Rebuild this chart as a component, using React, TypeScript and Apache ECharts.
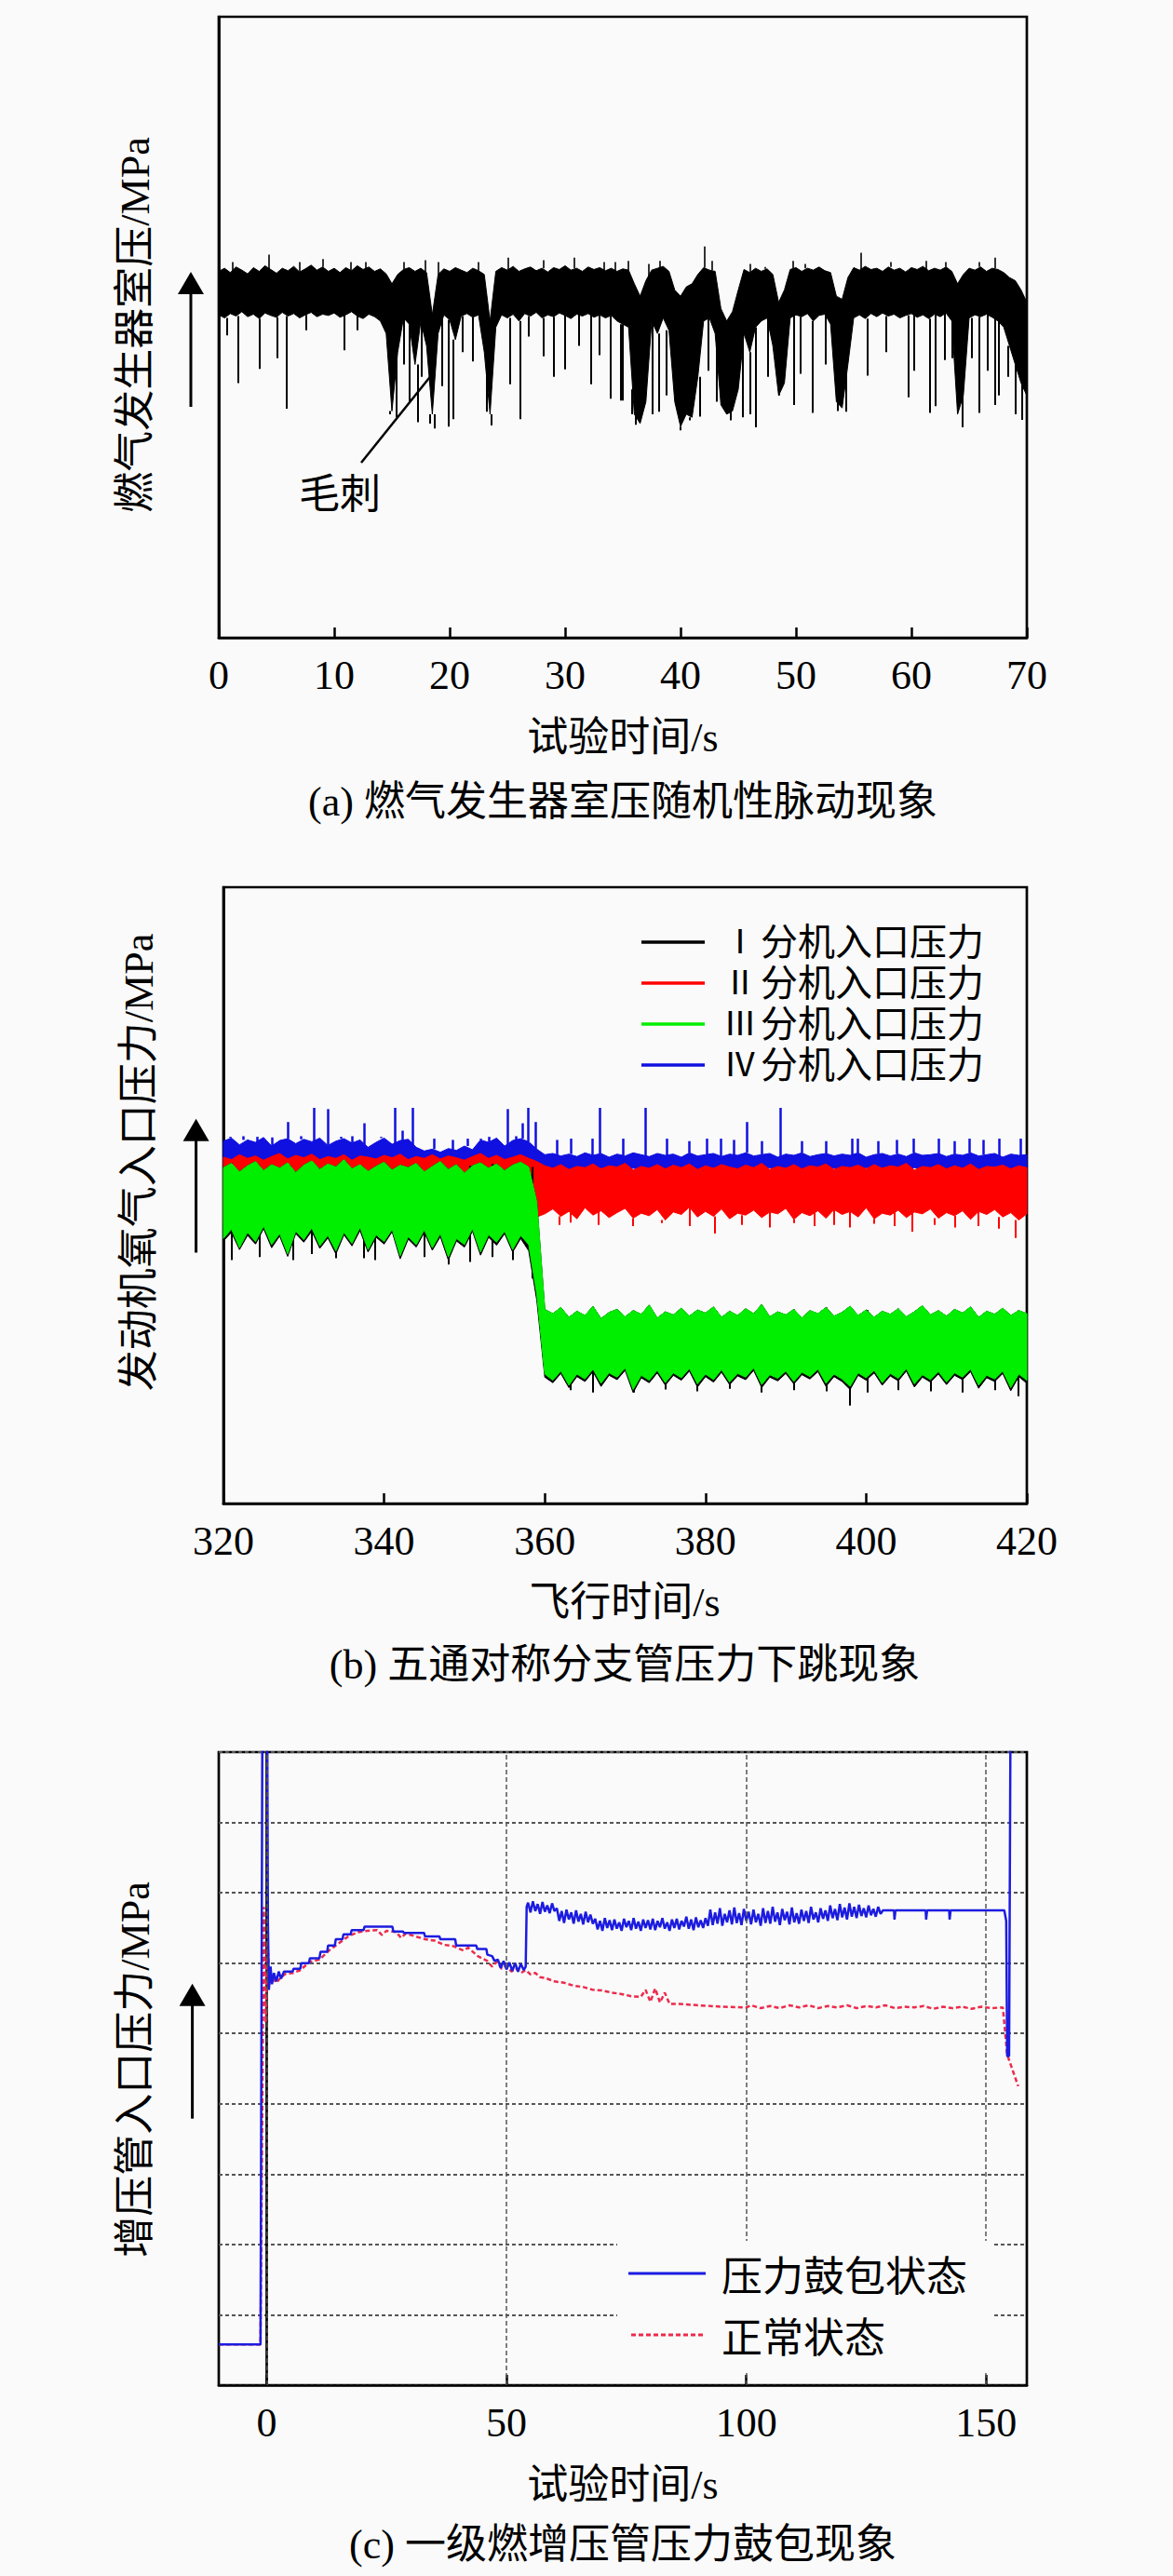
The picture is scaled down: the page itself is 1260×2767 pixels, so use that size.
import React, { useEffect, useRef } from "react";
import * as echarts from "echarts";

const SERIF = "Liberation Serif, Noto Sans CJK SC, serif";
const NUM_FONT = "Liberation Serif";
const CJK_FONT = "Noto Sans CJK SC";
const BG = "#fafafa";

// ---------------- (a) ----------------
const aTitle = "(a) 燃气发生器室压随机性脉动现象";
const aXName = "试验时间/s";
const aYName = "燃气发生器室压/MPa";
const aNote = "毛刺";
const aStep = 0.5; // envelope bin width, s
const aHigh = [
  5.90,5.95,5.88,5.97,5.92,5.86,5.96,5.90,5.99,5.93,
  5.87,5.95,5.91,5.98,5.89,5.94,6.00,5.92,5.97,5.90,
  5.95,5.88,5.96,5.91,5.99,5.93,5.97,5.90,5.94,5.86,
  5.70,5.85,5.93,5.96,5.90,5.95,5.88,5.20,5.85,5.94,
  5.90,5.96,5.92,5.88,5.95,5.91,5.85,5.10,5.90,5.96,
  5.92,5.98,5.90,5.94,5.97,5.91,5.95,5.89,5.96,5.93,
  5.99,5.92,5.95,5.90,5.97,5.93,5.96,5.91,5.95,5.90,
  5.94,5.92,5.70,5.50,5.75,5.92,5.95,5.98,5.90,5.60,
  5.50,5.65,5.70,5.85,5.96,5.92,5.90,5.30,5.10,5.25,
  5.60,5.93,5.88,5.95,5.90,5.94,5.85,5.40,5.60,5.93,
  5.96,5.90,5.95,5.92,5.97,5.91,5.88,5.50,5.45,5.80,
  5.96,5.92,5.98,5.93,5.95,5.90,5.97,5.92,5.95,5.89,
  5.96,5.93,5.98,5.91,5.95,5.92,5.97,5.90,5.70,5.85,
  5.95,5.92,5.97,5.90,5.95,5.93,5.88,5.80,5.75,5.60,
  5.40,
];
const aLow = [
  5.20,5.15,5.22,5.18,5.25,5.17,5.21,5.14,5.23,5.19,
  5.16,5.24,5.18,5.22,5.15,5.20,5.24,5.17,5.21,5.19,
  5.23,5.16,5.20,5.25,5.18,5.14,5.21,5.17,5.10,4.90,
  3.65,4.60,5.15,5.05,4.40,5.10,4.70,3.60,4.90,5.20,
  5.12,4.80,5.18,5.22,5.16,5.20,4.60,3.60,5.00,5.20,
  5.15,5.21,5.10,5.22,5.18,5.24,5.15,5.20,5.17,5.23,
  5.19,5.14,5.21,5.18,5.22,5.16,5.20,5.15,5.19,5.10,
  5.05,5.00,3.60,3.45,3.80,5.10,4.90,5.15,4.95,3.80,
  3.40,3.60,3.55,4.20,5.10,5.15,4.90,3.75,3.60,3.65,
  4.00,4.90,4.60,5.00,5.10,5.15,4.70,3.90,4.10,5.15,
  5.20,5.17,5.22,5.10,5.19,5.21,5.05,3.80,3.70,4.40,
  5.15,5.20,5.14,5.22,5.17,5.23,5.18,5.21,5.15,5.19,
  5.22,5.16,5.20,5.14,5.21,5.17,5.23,5.10,3.60,3.90,
  5.15,5.20,5.17,5.21,5.16,5.10,5.00,4.70,4.40,4.10,
  3.90,
];
// thin downward spikes: [time, lowest value]
const aDownSpikes = [
  [0.7,4.87],[1.7,4.10],[3.5,4.33],[5.1,4.50],[5.9,3.69],[7.6,4.95],[10.9,4.63],[12.0,4.95],
  [14.8,3.60],[15.4,3.55],[16.0,4.40],[16.5,3.80],[17.2,3.47],[17.6,4.20],[18.3,3.45],[18.7,3.37],
  [19.3,4.05],[19.9,3.40],[20.3,3.52],[21.1,4.60],[22.0,4.45],[23.2,3.64],[23.6,3.42],[25.2,4.08],
  [26.1,3.52],[26.8,4.85],[28.1,4.53],[29.0,4.20],[30.0,4.32],[31.2,4.70],[32.2,4.08],[33.0,4.55],
  [33.9,3.85],[34.8,3.82],[35.0,3.82],[35.8,4.00],[36.1,3.43],[37.6,3.60],[38.1,3.64],[38.8,3.90],
  [40.0,3.34],[40.8,3.50],[41.7,3.56],[42.4,4.30],[43.1,3.80],[44.3,3.50],[45.4,3.55],[46.0,3.60],
  [46.5,3.39],[47.6,4.20],[48.5,4.25],[49.8,3.75],[50.4,4.25],[51.4,3.62],[52.6,4.40],[53.6,3.65],
  [54.3,3.64],[56.2,4.22],[57.8,4.60],[59.7,3.87],[60.2,4.30],[61.6,3.62],[62.1,3.73],[62.9,4.47],
  [63.5,4.50],[64.4,3.39],[65.2,4.50],[65.9,3.62],[66.6,4.30],[67.2,3.75],[67.6,3.90],[68.4,4.20],
  [69.0,3.60],[69.6,3.51],
];
// thin upward spikes: [time, highest value]
const aUpSpikes = [
  [1.2,6.05],[4.3,6.17],[7.0,6.05],[9.0,6.10],[11.4,6.05],[12.7,6.05],[16.0,6.05],[17.9,6.08],
  [19.0,6.05],[22.5,6.05],[25.1,6.12],[28.1,6.08],[30.8,6.12],[33.4,6.05],[34.3,6.05],[35.5,6.07],
  [37.2,6.02],[38.2,6.07],[42.1,6.30],[42.7,6.07],[46.0,6.02],[47.3,5.97],[49.7,6.07],[50.8,6.02],
  [55.6,6.20],[58.2,6.05],[61.3,6.07],[63.0,6.05],[65.9,6.05],[67.2,6.12],
];

// ---------------- (b) ----------------
const bTitle = "(b) 五通对称分支管压力下跳现象";
const bXName = "飞行时间/s";
const bYName = "发动机氧气入口压力/MPa";
const bStart = 320; // first second of the 1 s envelopes
const bNames = ["Ⅰ分机入口压力", "Ⅱ分机入口压力", "Ⅲ分机入口压力", "Ⅳ分机入口压力"];
const bGreenHigh = [
  5.45,5.52,5.38,5.48,5.55,5.40,5.50,5.44,5.53,5.37,
  5.49,5.56,5.42,5.51,5.46,5.58,5.43,5.50,5.39,5.47,
  5.54,5.41,5.49,5.45,5.52,5.38,5.47,5.55,5.42,5.50,
  5.36,5.48,5.53,5.44,5.51,5.40,5.49,5.54,5.46,4.90,
  3.15,3.08,3.18,3.02,3.12,3.05,3.20,3.00,3.10,3.15,
  3.03,3.13,3.07,3.22,3.01,3.11,3.06,3.17,3.04,3.14,
  3.09,3.19,3.02,3.12,3.05,3.16,3.08,3.23,3.03,3.11,
  3.06,3.15,3.01,3.13,3.08,3.18,3.04,3.10,3.20,3.05,
  3.14,3.02,3.12,3.07,3.16,3.03,3.11,3.21,3.06,3.13,
  3.04,3.15,3.09,3.19,3.02,3.12,3.07,3.17,3.05,3.13,
  3.08,
];
const bGreenLow = [
  4.30,4.45,4.15,4.40,4.25,4.50,4.20,4.38,4.05,4.42,
  4.28,4.47,4.18,4.35,4.10,4.40,4.22,4.48,4.12,4.36,
  4.25,4.45,4.02,4.33,4.20,4.44,4.15,4.38,4.00,4.30,
  4.20,4.46,4.08,4.36,4.24,4.42,4.12,4.35,4.20,3.40,
  2.10,2.00,2.15,1.92,2.10,2.02,2.18,1.95,2.12,2.05,
  2.20,1.85,2.08,2.00,2.16,1.96,2.12,2.04,2.19,1.94,
  2.10,2.01,2.17,1.97,2.11,2.05,2.20,1.93,2.09,2.03,
  2.15,1.98,2.13,2.06,2.18,1.95,2.10,2.02,1.90,2.12,
  2.04,2.16,1.96,2.11,2.03,2.19,1.94,2.09,2.01,2.14,
  1.97,2.12,2.05,2.18,1.92,2.08,2.02,2.15,1.88,2.10,
  2.00,
];
const bBlackLow = [
  4.26,4.40,4.12,4.35,4.21,4.46,4.15,4.34,4.01,4.38,
  4.24,4.42,4.14,4.31,4.05,4.36,4.18,4.43,4.08,4.32,
  4.21,4.41,3.97,4.29,4.16,4.40,4.11,4.33,3.95,4.26,
  4.16,4.42,4.03,4.32,4.19,4.38,4.08,4.30,4.10,3.30,
  2.05,1.96,2.11,1.88,2.06,1.98,2.14,1.90,2.08,2.01,
  2.16,1.80,2.04,1.96,2.12,1.92,2.08,2.00,2.15,1.89,
  2.06,1.97,2.13,1.93,2.07,2.01,2.16,1.88,2.05,1.99,
  2.11,1.94,2.09,2.02,2.14,1.90,2.06,1.98,1.85,2.08,
  2.00,2.12,1.92,2.07,1.99,2.15,1.89,2.05,1.97,2.10,
  1.93,2.08,2.01,2.14,1.87,2.04,1.98,2.11,1.83,2.06,
  1.95,
];
const bRedHigh = [
  5.62,5.58,5.66,5.60,5.64,5.57,5.63,5.68,5.59,5.65,
  5.61,5.67,5.58,5.63,5.60,5.66,5.57,5.64,5.62,5.59,
  5.65,5.61,5.67,5.58,5.63,5.60,5.66,5.59,5.64,5.61,
  5.57,5.63,5.68,5.60,5.65,5.58,5.62,5.66,5.60,5.55,
  5.48,5.44,5.50,5.42,5.47,5.45,5.51,5.43,5.48,5.46,
  5.52,5.41,5.47,5.44,5.50,5.43,5.49,5.45,5.51,5.42,
  5.48,5.44,5.50,5.46,5.43,5.49,5.45,5.52,5.42,5.47,
  5.44,5.50,5.43,5.48,5.46,5.51,5.42,5.47,5.45,5.49,
  5.43,5.50,5.44,5.48,5.46,5.52,5.41,5.47,5.45,5.50,
  5.43,5.48,5.44,5.51,5.42,5.47,5.46,5.49,5.43,5.48,
  5.45,
];
const bRedLow = [
  4.55,4.60,4.50,4.58,4.52,4.62,4.48,4.57,4.53,4.60,
  4.50,4.58,4.55,4.61,4.49,4.56,4.52,4.59,4.54,4.60,
  4.51,4.57,4.53,4.62,4.50,4.58,4.55,4.60,4.48,4.56,
  4.52,4.59,4.54,4.61,4.50,4.57,4.53,4.58,4.55,4.65,
  4.70,4.78,4.66,4.74,4.62,4.80,4.68,4.75,4.64,4.72,
  4.79,4.63,4.71,4.67,4.77,4.60,4.73,4.69,4.81,4.65,
  4.74,4.66,4.78,4.62,4.71,4.68,4.76,4.64,4.73,4.70,
  4.79,4.61,4.72,4.67,4.75,4.63,4.77,4.69,4.74,4.65,
  4.80,4.62,4.71,4.68,4.76,4.64,4.73,4.70,4.78,4.63,
  4.72,4.67,4.75,4.61,4.74,4.69,4.77,4.65,4.72,4.60,
  4.70,
];
const bBlueHigh = [
  5.88,5.93,5.82,5.90,5.86,5.94,5.80,5.89,5.92,5.84,
  5.91,5.87,5.93,5.81,5.88,5.92,5.85,5.90,5.78,5.86,
  5.93,5.83,5.89,5.91,5.78,5.72,5.75,5.70,5.76,5.73,
  5.80,5.74,5.90,5.86,5.93,5.80,5.89,5.92,5.87,5.75,
  5.66,5.68,5.64,5.67,5.63,5.69,5.65,5.68,5.62,5.67,
  5.64,5.69,5.66,5.63,5.68,5.65,5.67,5.62,5.69,5.64,
  5.66,5.68,5.63,5.67,5.65,5.69,5.64,5.66,5.68,5.62,
  5.67,5.65,5.69,5.63,5.66,5.68,5.64,5.67,5.65,5.69,
  5.62,5.66,5.68,5.64,5.67,5.63,5.69,5.65,5.66,5.68,
  5.63,5.67,5.65,5.69,5.64,5.66,5.68,5.62,5.67,5.65,
  5.66,
];
const bBlueLow = [
  5.50,5.47,5.53,5.49,5.52,5.46,5.51,5.48,5.54,5.50,
  5.47,5.52,5.49,5.53,5.46,5.51,5.48,5.50,5.45,5.52,
  5.49,5.47,5.53,5.50,5.46,5.51,5.48,5.52,5.47,5.50,
  5.49,5.53,5.46,5.51,5.48,5.52,5.47,5.50,5.49,5.45,
  5.42,5.44,5.40,5.43,5.41,5.45,5.42,5.44,5.40,5.43,
  5.41,5.44,5.42,5.40,5.45,5.43,5.41,5.44,5.42,5.40,
  5.43,5.45,5.41,5.44,5.42,5.40,5.43,5.41,5.45,5.42,
  5.44,5.40,5.43,5.41,5.45,5.42,5.44,5.40,5.43,5.41,
  5.45,5.42,5.40,5.44,5.41,5.43,5.45,5.42,5.40,5.44,
  5.41,5.43,5.42,5.45,5.40,5.44,5.41,5.43,5.42,5.45,
  5.42,
];
const bBlueSpikes = [
  [320.8,5.95],[322.5,5.96],[324.2,5.95],[326.0,5.94],[328.0,6.19],[329.6,5.96],[331.3,6.42],[333.0,6.40],
  [334.6,5.95],[336.0,5.96],[337.5,6.17],[339.6,5.95],[341.3,6.42],[342.3,6.05],[343.6,6.42],[346.2,5.92],
  [348.5,5.90],[350.4,5.92],[352.0,5.92],[353.1,5.95],[355.4,6.40],[356.4,5.96],[357.2,6.17],[357.9,6.42],
  [358.9,6.19],[361.5,5.90],[363.2,5.92],[365.9,5.92],[366.8,6.42],[369.7,5.92],[372.5,6.42],[375.2,5.92],
  [378.0,5.88],[380.2,5.92],[381.9,5.92],[383.5,5.90],[385.2,6.19],[387.0,5.88],[389.3,6.42],[392.0,5.88],
  [395.0,5.88],[398.2,5.92],[398.9,5.92],[401.5,5.88],[403.8,5.90],[405.9,5.92],[409.0,5.92],[411.0,5.88],
  [412.8,5.92],[414.6,5.90],[416.5,5.92],[419.2,5.92],
];
const bRedDips = [
  [361.8,4.52],[363.2,4.56],[366.7,4.52],[370.9,4.50],[374.5,4.55],[378.0,4.50],[381.2,4.38],[384.5,4.52],
  [388.0,4.48],[391.0,4.55],[393.5,4.50],[396.0,4.52],[398.0,4.48],[401.0,4.54],[403.5,4.50],[405.7,4.41],
  [408.5,4.52],[411.0,4.48],[414.0,4.50],[416.5,4.46],[418.6,4.31],
];
const bBlackDips = [
  [321.0,3.95],[324.5,4.00],[328.7,3.95],[331.0,4.05],[334.0,3.98],[337.5,3.98],[338.9,3.95],[342.0,4.02],
  [345.0,4.00],[348.0,3.88],[350.7,3.92],[353.5,4.00],[356.0,3.95],[358.4,3.65],
  [363.2,1.84],[366.0,1.80],[371.1,1.80],[375.0,1.85],[379.0,1.82],[383.0,1.86],[387.0,1.80],[391.0,1.84],
  [395.0,1.82],[398.0,1.59],[400.1,1.80],[404.0,1.84],[408.0,1.82],[412.0,1.80],[416.0,1.84],[418.9,1.74],
];

// ---------------- (c) ----------------
const cTitle = "(c) 一级燃增压管压力鼓包现象";
const cXName = "试验时间/s";
const cYName = "增压管入口压力/MPa";
const cNames = ["压力鼓包状态", "正常状态"];
const cTicks = [0, 50, 100, 150];
const cBluePre = [
  [-10,0.58],[-1.3,0.58],[-0.9,9.6],[0.1,9.6],[0.25,6.6],[0.45,5.62],[0.8,5.95],[1.1,5.7],[1.5,5.86],
  [2.0,5.74],[2.5,5.88],[3.0,5.78],[3.6,5.88],[5.4,5.88],[5.6,5.92],[7.0,5.92],[7.2,6.0],[8.8,6.0],
  [9.0,6.07],[11.0,6.07],[11.2,6.16],[12.6,6.16],[12.8,6.25],[14.2,6.25],[14.4,6.34],[15.8,6.34],
  [16.0,6.41],[17.5,6.41],[17.7,6.47],[20.2,6.47],[20.4,6.52],[26.2,6.52],[26.4,6.45],[28.4,6.45],
  [28.6,6.43],[32.8,6.43],[33.0,6.38],[36.0,6.38],[36.2,6.34],[39.3,6.34],[39.5,6.25],[43.7,6.25],
  [43.9,6.2],[45.8,6.2],[46.0,6.12],[47.0,6.1],[47.5,6.03],[48.2,6.05],[48.8,5.93],[49.4,6.03],
  [50.0,5.91],[50.6,6.01],[51.2,5.89],[51.8,6.0],[52.4,5.88],[53.0,5.99],[53.6,5.9],[54.0,5.95],[54.2,6.8],
];
const cNoiseStart = 54.5; // first second of the 0.5 s noisy stretch
const cNoiseStep = 0.5;
const cBlueNoise = [
  6.86,6.72,6.88,6.74,6.84,6.70,6.87,6.73,6.82,6.71,6.85,6.74,
  6.78,6.60,6.74,6.57,6.76,6.62,6.72,6.56,6.75,6.59,6.70,6.55,6.73,6.58,6.69,6.56,
  6.63,6.48,6.60,6.46,6.64,6.50,6.61,6.47,6.62,6.49,6.58,6.46,6.63,6.51,6.60,6.47,
  6.64,6.49,6.59,6.46,6.62,6.50,6.61,6.48,6.63,6.47,6.60,6.51,6.64,6.49,6.58,6.46,
  6.62,6.50,6.63,6.48,6.60,6.52,6.66,6.49,6.62,6.47,6.65,6.51,6.61,6.50,6.64,6.53,
  6.76,6.54,6.72,6.56,6.78,6.53,6.70,6.58,6.75,6.55,6.79,6.57,6.71,6.54,6.77,6.60,
  6.73,6.55,6.76,6.58,6.70,6.53,6.78,6.57,6.74,6.56,6.80,6.59,6.72,6.54,6.77,6.61,
  6.73,6.55,6.79,6.58,6.71,6.56,6.76,6.60,6.74,6.57,6.80,6.62,6.72,6.58,6.78,6.63,
  6.75,6.60,6.82,6.64,6.77,6.61,6.84,6.65,6.79,6.62,6.85,6.66,6.80,6.64,6.83,6.67,
  6.78,6.65,6.82,6.68,6.77,6.66,6.80,6.70,
];
const cBluePost = [
  [128.5,6.75],[130.8,6.75],[130.9,6.62],[131.1,6.75],[137.4,6.75],[137.5,6.62],[137.7,6.75],
  [142.3,6.75],[142.4,6.62],[142.6,6.75],[153.8,6.75],[154.2,6.6],[154.4,4.68],[154.8,4.68],[155.1,9.6],
];
const cRed = [
  [-10,0.58],[-1.3,0.58],[-0.6,6.8],[-0.2,5.15],[0.2,6.3],[0.5,5.7],[1.0,5.82],[2,5.72],[3,5.8],[4,5.85],
  [5.5,5.86],[7,5.9],[9,6.02],[11,6.05],[13,6.18],[15,6.28],[17,6.38],[19,6.44],[21,6.46],[23,6.47],
  [24,6.4],[25,6.46],[27,6.44],[28,6.36],[29,6.42],[31,6.38],[33,6.34],[35,6.32],[37,6.26],[39,6.24],
  [41,6.18],[42,6.22],[44,6.1],[46,6.03],[47,5.95],[48,6.02],[49,5.92],[50,5.96],[51,5.88],[52,5.92],
  [53,5.86],[54,5.9],[55,5.84],[56,5.86],[57,5.8],[58,5.79],[60,5.74],[62,5.72],[64,5.68],[66,5.66],
  [68,5.62],[70,5.61],[72,5.58],[74,5.56],[76,5.53],[78,5.52],[79,5.62],[80,5.45],[81,5.64],[82,5.44],
  [83,5.58],[84,5.42],[86,5.42],[88,5.41],[90,5.4],[95,5.38],[100,5.37],[101,5.4],[103,5.36],[105,5.39],
  [107,5.36],[109,5.4],[111,5.37],[113,5.4],[115,5.36],[117,5.39],[119,5.37],[121,5.4],[123,5.36],
  [125,5.39],[127,5.37],[129,5.4],[131,5.36],[133,5.38],[135,5.37],[137,5.39],[139,5.35],[141,5.38],
  [143,5.36],[145,5.38],[147,5.35],[149,5.38],[151,5.36],[153.5,5.37],[154.4,4.7],[156.7,4.25],
];

// ---------------- helpers ----------------
const pairs = (vals: number[], t0: number, step: number) => vals.map((v, i) => [t0 + i * step, v]);

// filled min/max envelope of a dense signal, drawn through the axes with api.coord
function band(name: string, high: number[], low: number[], t0: number, step: number, color: string, gi: number) {
  return {
    type: "custom", name, xAxisIndex: gi, yAxisIndex: gi, silent: true,
    itemStyle: { color },
    data: [[t0, high[0]]],
    renderItem: (_p: any, api: any) => {
      const pts: number[][] = [];
      high.forEach((v, i) => pts.push(api.coord([t0 + i * step, v])));
      for (let i = low.length - 1; i >= 0; i--) pts.push(api.coord([t0 + i * step, low[i]]));
      return { type: "polygon", shape: { points: pts }, style: { fill: color, stroke: color, lineWidth: 1 } };
    },
  };
}

function spikes(list: number[][], from: number[], t0: number, step: number, color: string, width: number, gi: number) {
  return {
    type: "lines", coordinateSystem: "cartesian2d", xAxisIndex: gi, yAxisIndex: gi, polyline: false, silent: true,
    lineStyle: { color, width, opacity: 1 },
    data: list.map(([t, v]) => ({ coords: [[t, from[Math.round((t - t0) / step)]], [t, v]] })),
  };
}

const txt = (text: string, x: number, y: number, rotation = 0) => ({
  type: "text", x, y, rotation, z: 50, silent: true,
  style: {
    text, fontSize: 44, fontFamily: SERIF, fill: "#000",
    align: "center", verticalAlign: "middle", textAlign: "center", textVerticalAlign: "middle",
  },
});

const arrow = (x: number, yBottom: number, yTip: number) => [
  { type: "line", z: 50, silent: true, shape: { x1: x, y1: yBottom, x2: x, y2: yTip + 18 }, style: { stroke: "#000", lineWidth: 3 } },
  { type: "polygon", z: 50, silent: true, shape: { points: [[x - 14, yTip + 24], [x, yTip], [x + 14, yTip + 24]] }, style: { fill: "#000" } },
];

// dashed legend icon for the dotted "normal" curve
let dashPath = "";
for (let x = 0; x < 80; x += 8) dashPath += `M${x} 0h5v3h-5z`;
const dashIcon = "path://" + dashPath;

const tickLabel = { fontFamily: NUM_FONT, fontSize: 44, color: "#000", margin: 18, showMinLabel: true, showMaxLabel: true };
const tick = { show: true, inside: true, length: 11, lineStyle: { color: "#000", width: 2.5 } };
const axLine = { show: true, lineStyle: { color: "#000", width: 2.7 } };
const gridBase = { show: true, borderColor: "#000", borderWidth: 2.7, backgroundColor: "transparent", containLabel: false, outerBoundsMode: "none" };

export default function App() {
  const ref = useRef<HTMLDivElement>(null);
  useEffect(() => {
    document.body.style.margin = "0";
    document.body.style.background = BG;
    const chart = echarts.init(ref.current!, null, { renderer: "svg" });

    const cBlue = [...cBluePre, ...pairs(cBlueNoise, cNoiseStart, cNoiseStep), ...cBluePost];

    const option: any = {
      animation: false,
      backgroundColor: BG,
      textStyle: { fontFamily: SERIF },
      grid: [
        { ...gridBase, left: 235, top: 18, width: 868, height: 667 },
        { ...gridBase, left: 240, top: 953, width: 863, height: 662 },
        { ...gridBase, left: 235, top: 1882, width: 868, height: 680 },
      ],
      xAxis: [
        { gridIndex: 0, type: "value", min: 0, max: 70, interval: 10, axisLine: axLine, axisTick: tick, axisLabel: tickLabel, splitLine: { show: false } },
        { gridIndex: 1, type: "value", min: 320, max: 420, interval: 20, axisLine: axLine, axisTick: tick, axisLabel: tickLabel, splitLine: { show: false } },
        {
          gridIndex: 2, type: "value", min: -10, max: 158.5, axisLine: axLine,
          axisTick: { ...tick, customValues: cTicks }, axisLabel: { ...tickLabel, customValues: cTicks },
          splitLine: { show: false },
        },
      ],
      yAxis: [
        { gridIndex: 0, type: "value", min: 0, max: 10, axisLine: axLine, axisTick: { show: false }, axisLabel: { show: false }, splitLine: { show: false } },
        { gridIndex: 1, type: "value", min: 0, max: 10, axisLine: axLine, axisTick: { show: false }, axisLabel: { show: false }, splitLine: { show: false } },
        {
          gridIndex: 2, type: "value", min: 0, max: 9, interval: 1, axisLine: axLine, axisTick: { show: false }, axisLabel: { show: false },
          splitLine: { show: true, lineStyle: { color: "#555", width: 2, type: [4, 3] } },
        },
      ],
      legend: [
        {
          orient: "vertical", left: 689, top: 990, padding: 0, itemGap: 0, itemWidth: 68, itemHeight: 3.3,
          data: bNames.map((name) => ({ name, icon: "rect" })), selectedMode: false,
          formatter: (name: string) => `{n|${name.charAt(0)}}{c|${name.slice(1)}}`,
          textStyle: {
            fontFamily: SERIF, fontSize: 40, lineHeight: 44, color: "#000", padding: [0, 0, 0, 11],
            rich: {
              n: { fontFamily: SERIF, fontSize: 36, lineHeight: 44, width: 44, align: "center", color: "#000" },
              c: { fontFamily: SERIF, fontSize: 40, lineHeight: 44, color: "#000" },
            },
          },
        },
        {
          orient: "vertical", left: 663, top: 2407, padding: [13, 27, 18, 12], itemGap: 22, itemWidth: 83, itemHeight: 3,
          data: [{ name: cNames[0], icon: "rect" }, { name: cNames[1], icon: dashIcon }], selectedMode: false,
          backgroundColor: BG, z: 10,
          textStyle: { fontFamily: CJK_FONT, fontSize: 44, lineHeight: 44, color: "#000", padding: [0, 0, 0, 12] },
        },
      ],
      series: [
        // (a)
        band("室压", aHigh, aLow, 0, aStep, "#000", 0),
        spikes(aDownSpikes, aLow, 0, aStep, "#000", 2, 0),
        spikes(aUpSpikes, aHigh, 0, aStep, "#000", 1.6, 0),
        // (b)  blue below red, black below green
        band(bNames[3], bBlueHigh, bBlueLow, bStart, 1, "#1010e0", 1),
        spikes(bBlueSpikes, bBlueHigh, bStart, 1, "#1010e0", 2.5, 1),
        band(bNames[1], bRedHigh, bRedLow, bStart, 1, "#ff0000", 1),
        spikes(bRedDips, bRedLow, bStart, 1, "#ff0000", 2, 1),
        band(bNames[0], bGreenHigh, bBlackLow, bStart, 1, "#000000", 1),
        spikes(bBlackDips, bGreenHigh, bStart, 1, "#000000", 2, 1),
        band(bNames[2], bGreenHigh, bGreenLow, bStart, 1, "#00ee00", 1),
        // (c) vertical grid lines
        {
          type: "line", name: "cgrid", xAxisIndex: 2, yAxisIndex: 2, data: [], silent: true,
          markLine: {
            silent: true, symbol: ["none", "none"], label: { show: false }, animation: false,
            lineStyle: { color: "#555", width: 1.5, type: [5, 3] },
            data: cTicks.map((v) => ({ xAxis: v })),
          },
        },
        {
          type: "line", name: cNames[1], xAxisIndex: 2, yAxisIndex: 2, data: cRed, symbol: "none", silent: true,
          lineStyle: { color: "#ee2a4a", width: 2.5, type: [5, 3] }, itemStyle: { color: "#ee2a4a" },
        },
        {
          type: "line", name: cNames[0], xAxisIndex: 2, yAxisIndex: 2, data: cBlue, symbol: "none", silent: true,
          lineStyle: { color: "#1c1ce0", width: 2.5 }, itemStyle: { color: "#1c1ce0" },
        },
      ],
      graphic: [
        // (a)
        txt(aXName, 669, 792), txt(aTitle, 669, 861), txt(aYName, 145, 349, Math.PI / 2), ...arrow(205, 437, 292),
        txt(aNote, 365, 531),
        { type: "line", z: 50, silent: true, shape: { x1: 388, y1: 497, x2: 465, y2: 401 }, style: { stroke: "#000", lineWidth: 2.5 } },
        // (b)
        txt(bXName, 671, 1721), txt(bTitle, 671, 1788), txt(bYName, 149.5, 1248.5, Math.PI / 2), ...arrow(210.6, 1345.5, 1201.8),
        // (c)
        txt(cXName, 669, 2669), txt(cTitle, 669, 2733), txt(cYName, 145.5, 2223, Math.PI / 2), ...arrow(206.6, 2275.7, 2130.7),
      ],
    };
    chart.setOption(option);
    return () => chart.dispose();
  }, []);
  return <div ref={ref} style={{ width: 1260, height: 2767 }} />;
}
